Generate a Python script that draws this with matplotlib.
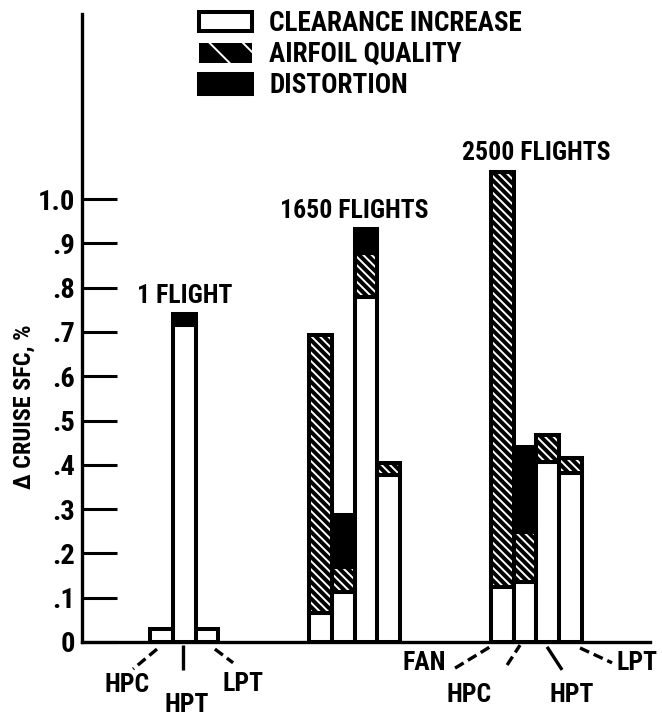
import matplotlib
matplotlib.use("Agg")
import matplotlib.pyplot as plt
from matplotlib.patches import Patch
import numpy as np

plt.rcParams['font.family'] = ['Roboto Condensed', 'DejaVu Sans']
plt.rcParams['font.stretch'] = 'condensed'
plt.rcParams['font.weight'] = 'bold'
plt.rcParams['hatch.linewidth'] = 1.4

# data: one entry per bar, left to right
groups = ["1 FLIGHT", "1650 FLIGHTS", "2500 FLIGHTS"]
group_start = [3, 10, 18]
parts = [["HPC", "HPT", "LPT"],
         ["FAN", "HPC", "HPT", "LPT"],
         ["FAN", "HPC", "HPT", "LPT"]]
clearance = [[0.03, 0.715, 0.03],
             [0.065, 0.113, 0.779, 0.377],
             [0.124, 0.135, 0.406, 0.381]]
airfoil = [[0.0, 0.0, 0.0],
           [0.628, 0.056, 0.099, 0.027],
           [0.937, 0.113, 0.061, 0.034]]
distortion = [[0.0, 0.025, 0.0],
              [0.0, 0.118, 0.054, 0.0],
              [0.0, 0.192, 0.0, 0.0]]

yticks = [0, .1, .2, .3, .4, .5, .6, .7, .8, .9, 1.0]
ytick_labels = ["0", ".1", ".2", ".3", ".4", ".5", ".6", ".7", ".8", ".9", "1.0"]

fig = plt.figure(figsize=(6.62, 7.22), dpi=100)
ax = fig.add_axes([82/662, 80/722, 568/662, 628/722])
ax.set_xlim(0, 25)
ax.set_ylim(0, 1.418)

LW = 2.9
FS = 18.5
for g in range(len(groups)):
    xs = group_start[g] + np.arange(len(parts[g]))
    c = np.array(clearance[g])
    a = np.array(airfoil[g])
    d = np.array(distortion[g])
    for i, x in enumerate(xs):
        bottom = 0
        # clearance increase - open
        if c[i] > 0:
            ax.bar(x, c[i], 1, bottom=bottom, align='edge', color='white',
                   edgecolor='black', linewidth=LW, zorder=2)
            bottom += c[i]
        # airfoil quality - hatched
        if a[i] > 0:
            ax.bar(x, a[i], 1, bottom=bottom, align='edge', color='black',
                   edgecolor='white', hatch='\\\\\\\\', linewidth=0, zorder=2)
            ax.bar(x, a[i], 1, bottom=bottom, align='edge', fill=False,
                   edgecolor='black', linewidth=LW, zorder=3)
            bottom += a[i]
        # distortion - solid
        if d[i] > 0:
            ax.bar(x, d[i], 1, bottom=bottom, align='edge', color='black',
                   edgecolor='black', linewidth=LW, zorder=2)
            bottom += d[i]
    top = max(c + a + d)
    ax.text(group_start[g] + len(parts[g]) / 2, top + 0.015, groups[g],
            ha='center', va='bottom', fontsize=FS)

# axes styling
for s in ['top', 'right']:
    ax.spines[s].set_visible(False)
ax.spines['left'].set_linewidth(2.4)
ax.spines['bottom'].set_linewidth(2.4)
ax.set_yticks(yticks)
ax.set_yticklabels(ytick_labels, fontsize=20.5)
ax.tick_params(axis='y', direction='in', length=25, width=2.2, pad=5)
ax.set_xticks([])
fig.text(24/662, 1 - 407/722, "\u0394 CRUISE SFC, %", rotation=90,
         ha='center', va='center', fontsize=17.5)

# component labels with leader lines
def leader(x0, y0, x1, y1, ls):
    ax.plot([x0, x1], [y0, y1], color='black', lw=2.4, ls=ls,
            dashes=(3, 1.5) if ls == '--' else (None, None), clip_on=False,
            solid_capstyle='butt')

def comp(label, x, y):
    ax.text(x, y, label, ha='center', va='center', fontsize=FS, clip_on=False)

leader(3.30, -0.016, 2.25, -0.061, '--')
comp("HPC", 1.98, -0.097)
leader(4.45, -0.007, 4.45, -0.063, '-')
comp("HPT", 4.62, -0.142)
leader(5.85, -0.016, 6.65, -0.047, '--')
comp("LPT", 7.09, -0.095)

leader(16.42, -0.059, 17.96, -0.011, '--')
comp("FAN", 15.05, -0.047)
leader(18.71, -0.052, 19.28, -0.007, '--')
comp("HPC", 17.03, -0.12)
leader(20.47, -0.011, 21.13, -0.063, '-')
comp("HPT", 21.57, -0.12)
leader(21.92, -0.0135, 23.33, -0.047, '--')
comp("LPT", 24.43, -0.047)

# legend
handles = [Patch(facecolor='white', edgecolor='black', linewidth=LW),
           Patch(facecolor='black', edgecolor='white', hatch='\\', linewidth=0),
           Patch(facecolor='black', edgecolor='black', linewidth=LW)]
labels = ["CLEARANCE INCREASE", "AIRFOIL QUALITY", "DISTORTION"]
ax.legend(handles, labels, loc='upper left', bbox_to_anchor=(199/662, 1 - 10/722),
          bbox_transform=fig.transFigure, frameon=False, fontsize=19.5,
          handlelength=1.95, handleheight=0.75, handletextpad=0.65,
          labelspacing=0.15, borderpad=0, borderaxespad=0)

fig.savefig("out.png", dpi=100)
